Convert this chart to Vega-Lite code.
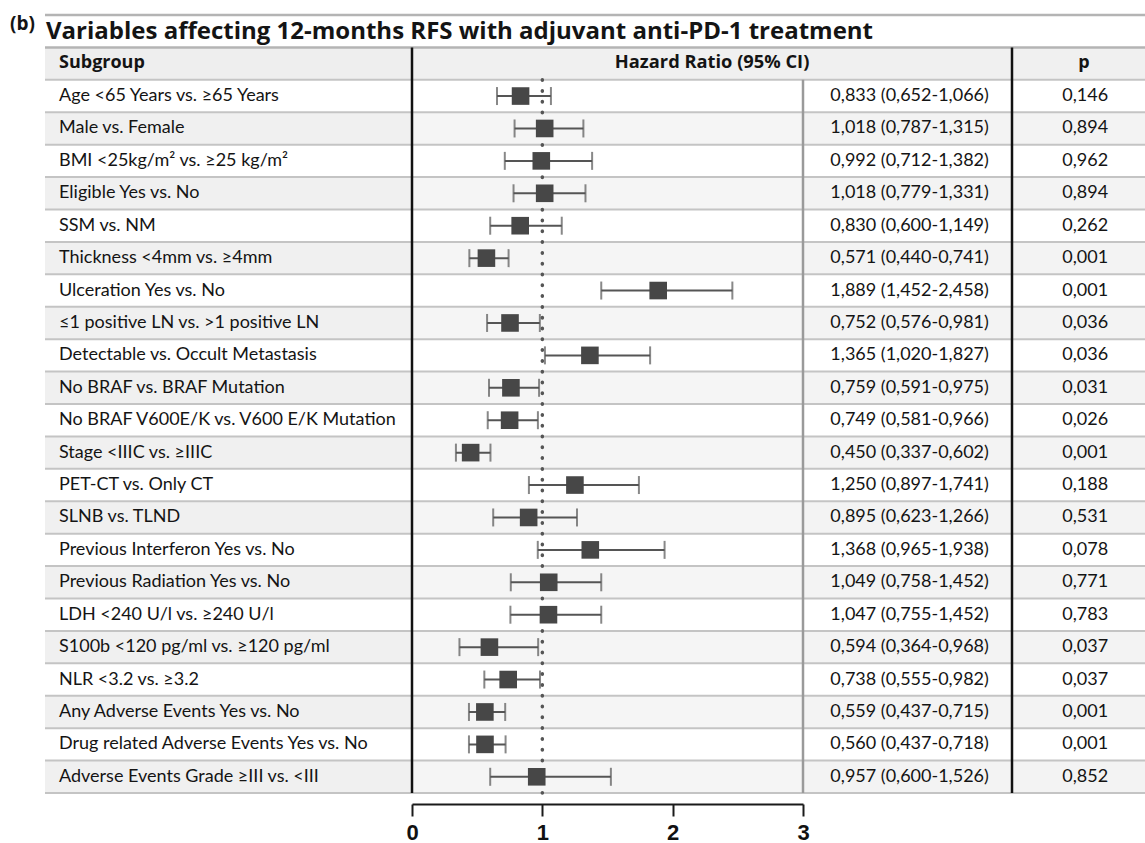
{
  "$schema": "https://vega.github.io/schema/vega-lite/v6.json",
  "padding": {"left": 10, "top": 13, "right": 0, "bottom": 0},
  "background": "white",
  "config": {"view": {"stroke": null}, "font": "Lato"},
  "datasets": {
    "rows": [
      {"i": 1, "label": "Age <65 Years vs. ≥65 Years", "hr": 0.833, "lo": 0.652, "hi": 1.066, "hrtext": "0,833 (0,652-1,066)", "p": "0,146"},
      {"i": 2, "label": "Male vs. Female", "hr": 1.018, "lo": 0.787, "hi": 1.315, "hrtext": "1,018 (0,787-1,315)", "p": "0,894"},
      {"i": 3, "label": "BMI <25kg/m² vs. ≥25 kg/m²", "hr": 0.992, "lo": 0.712, "hi": 1.382, "hrtext": "0,992 (0,712-1,382)", "p": "0,962"},
      {"i": 4, "label": "Eligible Yes vs. No", "hr": 1.018, "lo": 0.779, "hi": 1.331, "hrtext": "1,018 (0,779-1,331)", "p": "0,894"},
      {"i": 5, "label": "SSM vs. NM", "hr": 0.830, "lo": 0.600, "hi": 1.149, "hrtext": "0,830 (0,600-1,149)", "p": "0,262"},
      {"i": 6, "label": "Thickness <4mm vs. ≥4mm", "hr": 0.571, "lo": 0.440, "hi": 0.741, "hrtext": "0,571 (0,440-0,741)", "p": "0,001"},
      {"i": 7, "label": "Ulceration Yes vs. No", "hr": 1.889, "lo": 1.452, "hi": 2.458, "hrtext": "1,889 (1,452-2,458)", "p": "0,001"},
      {"i": 8, "label": "≤1 positive LN vs. >1 positive LN", "hr": 0.752, "lo": 0.576, "hi": 0.981, "hrtext": "0,752 (0,576-0,981)", "p": "0,036"},
      {"i": 9, "label": "Detectable vs. Occult Metastasis", "hr": 1.365, "lo": 1.020, "hi": 1.827, "hrtext": "1,365 (1,020-1,827)", "p": "0,036"},
      {"i": 10, "label": "No BRAF vs. BRAF Mutation", "hr": 0.759, "lo": 0.591, "hi": 0.975, "hrtext": "0,759 (0,591-0,975)", "p": "0,031"},
      {"i": 11, "label": "No BRAF V600E/K vs. V600 E/K Mutation", "hr": 0.749, "lo": 0.581, "hi": 0.966, "hrtext": "0,749 (0,581-0,966)", "p": "0,026"},
      {"i": 12, "label": "Stage <IIIC vs. ≥IIIC", "hr": 0.450, "lo": 0.337, "hi": 0.602, "hrtext": "0,450 (0,337-0,602)", "p": "0,001"},
      {"i": 13, "label": "PET-CT vs. Only CT", "hr": 1.250, "lo": 0.897, "hi": 1.741, "hrtext": "1,250 (0,897-1,741)", "p": "0,188"},
      {"i": 14, "label": "SLNB vs. TLND", "hr": 0.895, "lo": 0.623, "hi": 1.266, "hrtext": "0,895 (0,623-1,266)", "p": "0,531"},
      {"i": 15, "label": "Previous Interferon Yes vs. No", "hr": 1.368, "lo": 0.965, "hi": 1.938, "hrtext": "1,368 (0,965-1,938)", "p": "0,078"},
      {"i": 16, "label": "Previous Radiation Yes vs. No", "hr": 1.049, "lo": 0.758, "hi": 1.452, "hrtext": "1,049 (0,758-1,452)", "p": "0,771"},
      {"i": 17, "label": "LDH <240 U/l vs. ≥240 U/l", "hr": 1.047, "lo": 0.755, "hi": 1.452, "hrtext": "1,047 (0,755-1,452)", "p": "0,783"},
      {"i": 18, "label": "S100b <120 pg/ml vs. ≥120 pg/ml", "hr": 0.594, "lo": 0.364, "hi": 0.968, "hrtext": "0,594 (0,364-0,968)", "p": "0,037"},
      {"i": 19, "label": "NLR <3.2 vs. ≥3.2", "hr": 0.738, "lo": 0.555, "hi": 0.982, "hrtext": "0,738 (0,555-0,982)", "p": "0,037"},
      {"i": 20, "label": "Any Adverse Events Yes vs. No", "hr": 0.559, "lo": 0.437, "hi": 0.715, "hrtext": "0,559 (0,437-0,715)", "p": "0,001"},
      {"i": 21, "label": "Drug related Adverse Events Yes vs. No", "hr": 0.560, "lo": 0.437, "hi": 0.718, "hrtext": "0,560 (0,437-0,718)", "p": "0,001"},
      {"i": 22, "label": "Adverse Events Grade ≥III vs. <III", "hr": 0.957, "lo": 0.600, "hi": 1.526, "hrtext": "0,957 (0,600-1,526)", "p": "0,852"}
    ],
    "hdr": [{"i": 0}],
    "ttl": [{"i": -1, "title": "Variables affecting 12-months RFS with adjuvant anti-PD-1 treatment", "tag": "(b)"}]
  },
  "spacing": 0,
  "bounds": "flush",
  "hconcat": [
    {
      "width": 367,
      "height": 778,
      "layer": [
        {"data": {"name": "rows"}, "transform": [{"filter": "datum.i % 2 == 0"}], "mark": {"type": "rect", "color": "#f0f0f0"},
         "encoding": {"y": {"field": "i", "type": "ordinal", "scale": {"domain": [-1,0,1,2,3,4,5,6,7,8,9,10,11,12,13,14,15,16,17,18,19,20,21,22], "paddingInner": 0, "paddingOuter": 0}, "axis": null}}},
        {"data": {"name": "hdr"}, "mark": {"type": "rect", "color": "#eeeeee"}, "encoding": {"y": {"field": "i", "type": "ordinal"}}},
        {"data": {"name": "rows"}, "mark": {"type": "rule", "color": "#c4c4c4", "strokeWidth": 2}, "encoding": {"y": {"field": "i", "type": "ordinal", "bandPosition": 1}}},
        {"data": {"name": "hdr"}, "mark": {"type": "rule", "color": "#b4b4b4", "strokeWidth": 2.5}, "encoding": {"y": {"field": "i", "type": "ordinal", "bandPosition": 0}}},
        {"data": {"name": "hdr"}, "mark": {"type": "rule", "color": "#c4c4c4", "strokeWidth": 2}, "encoding": {"y": {"field": "i", "type": "ordinal", "bandPosition": 1}}},
        {"data": {"name": "ttl"}, "mark": {"type": "rule", "color": "#b4b4b4", "strokeWidth": 2.5}, "encoding": {"y": {"field": "i", "type": "ordinal", "bandPosition": 0}}},
        {"data": {"name": "rows"}, "mark": {"type": "text", "align": "left", "baseline": "middle", "dx": 14, "fontSize": 18, "color": "#141414"},
         "encoding": {"x": {"datum": 0, "type": "quantitative", "scale": {"domain": [0, 1]}, "axis": null}, "y": {"field": "i", "type": "ordinal"}, "text": {"field": "label"}}},
        {"data": {"name": "hdr"}, "mark": {"type": "text", "align": "left", "baseline": "middle", "dx": 14, "dy": -1, "font": "Open Sans", "fontSize": 18, "fontWeight": "bold", "color": "#141414"},
         "encoding": {"x": {"datum": 0, "type": "quantitative"}, "y": {"field": "i", "type": "ordinal"}, "text": {"value": "Subgroup"}}},
        {"data": {"name": "ttl"}, "mark": {"type": "text", "align": "left", "baseline": "middle", "dx": 1, "dy": 1, "font": "Open Sans", "fontSize": 24, "fontWeight": "bold", "color": "#141414"},
         "encoding": {"x": {"datum": 0, "type": "quantitative"}, "y": {"field": "i", "type": "ordinal"}, "text": {"field": "title"}}},
        {"data": {"name": "ttl"}, "mark": {"type": "text", "align": "left", "baseline": "middle", "dx": -35, "dy": -7, "font": "Open Sans", "fontSize": 19, "fontWeight": "bold", "color": "#141414"},
         "encoding": {"x": {"datum": 0, "type": "quantitative"}, "y": {"field": "i", "type": "ordinal"}, "text": {"field": "tag"}}}
      ]
    },
    {
      "width": 391,
      "height": 778,
      "layer": [
        {"data": {"name": "rows"}, "transform": [{"filter": "datum.i % 2 == 0"}], "mark": {"type": "rect", "color": "#f5f5f5"},
         "encoding": {"y": {"field": "i", "type": "ordinal", "scale": {"domain": [-1,0,1,2,3,4,5,6,7,8,9,10,11,12,13,14,15,16,17,18,19,20,21,22], "paddingInner": 0, "paddingOuter": 0}, "axis": null}}},
        {"data": {"name": "hdr"}, "mark": {"type": "rect", "color": "#f0f0f0"}, "encoding": {"y": {"field": "i", "type": "ordinal"}}},
        {"data": {"name": "rows"}, "mark": {"type": "rule", "color": "#c4c4c4", "strokeWidth": 2}, "encoding": {"y": {"field": "i", "type": "ordinal", "bandPosition": 1}}},
        {"data": {"name": "hdr"}, "mark": {"type": "rule", "color": "#b4b4b4", "strokeWidth": 2.5}, "encoding": {"y": {"field": "i", "type": "ordinal", "bandPosition": 0}}},
        {"data": {"name": "hdr"}, "mark": {"type": "rule", "color": "#c4c4c4", "strokeWidth": 2}, "encoding": {"y": {"field": "i", "type": "ordinal", "bandPosition": 1}}},
        {"data": {"name": "ttl"}, "mark": {"type": "rule", "color": "#b4b4b4", "strokeWidth": 2.5}, "encoding": {"y": {"field": "i", "type": "ordinal", "bandPosition": 0}}},
        {"data": {"name": "hdr"}, "mark": {"type": "rule", "color": "#111111", "strokeWidth": 2.5},
         "encoding": {"x": {"datum": 0, "type": "quantitative"}, "y": {"datum": 0, "type": "ordinal", "bandPosition": 0}, "y2": {"datum": 22, "bandPosition": 1}}},
        {"data": {"name": "hdr"}, "mark": {"type": "rule", "color": "#555555", "strokeWidth": 3.5, "strokeDash": [0.5, 10.3], "strokeCap": "round"},
         "encoding": {"x": {"datum": 1, "type": "quantitative"}, "y": {"datum": 1, "type": "ordinal", "bandPosition": 0}, "y2": {"datum": 22, "bandPosition": 1}}},
        {"data": {"name": "rows"}, "mark": {"type": "rule", "color": "#555555", "strokeWidth": 2},
         "encoding": {
           "x": {"field": "lo", "type": "quantitative", "scale": {"domain": [0, 3], "nice": false},
                 "axis": {"values": [0, 1, 2, 3], "format": "d", "offset": 11, "title": null, "grid": false, "domainColor": "#1a1a1a", "domainWidth": 2, "tickColor": "#1a1a1a", "tickWidth": 2, "tickSize": 12, "labelFont": "Liberation Sans", "labelFontSize": 22, "labelFontWeight": "bold", "labelColor": "#111111", "labelPadding": 6, "labelFlush": false}},
           "x2": {"field": "hi"},
           "y": {"field": "i", "type": "ordinal"}}},
        {"data": {"name": "rows"}, "mark": {"type": "tick", "color": "#555555", "thickness": 2, "size": 18},
         "encoding": {"x": {"field": "lo", "type": "quantitative"}, "y": {"field": "i", "type": "ordinal"}}},
        {"data": {"name": "rows"}, "mark": {"type": "tick", "color": "#555555", "thickness": 2, "size": 18},
         "encoding": {"x": {"field": "hi", "type": "quantitative"}, "y": {"field": "i", "type": "ordinal"}}},
        {"data": {"name": "rows"}, "mark": {"type": "square", "color": "#474747", "size": 310, "opacity": 1},
         "encoding": {"x": {"field": "hr", "type": "quantitative"}, "y": {"field": "i", "type": "ordinal"}}}
      ]
    },
    {
      "width": 209,
      "height": 778,
      "layer": [
        {"data": {"name": "rows"}, "transform": [{"filter": "datum.i % 2 == 0"}], "mark": {"type": "rect", "color": "#f3f3f3"},
         "encoding": {"y": {"field": "i", "type": "ordinal", "scale": {"domain": [-1,0,1,2,3,4,5,6,7,8,9,10,11,12,13,14,15,16,17,18,19,20,21,22], "paddingInner": 0, "paddingOuter": 0}, "axis": null}}},
        {"data": {"name": "hdr"}, "mark": {"type": "rect", "color": "#f0f0f0"}, "encoding": {"y": {"field": "i", "type": "ordinal"}}},
        {"data": {"name": "rows"}, "mark": {"type": "rule", "color": "#c4c4c4", "strokeWidth": 2}, "encoding": {"y": {"field": "i", "type": "ordinal", "bandPosition": 1}}},
        {"data": {"name": "hdr"}, "mark": {"type": "rule", "color": "#b4b4b4", "strokeWidth": 2.5}, "encoding": {"y": {"field": "i", "type": "ordinal", "bandPosition": 0}}},
        {"data": {"name": "hdr"}, "mark": {"type": "rule", "color": "#c4c4c4", "strokeWidth": 2}, "encoding": {"y": {"field": "i", "type": "ordinal", "bandPosition": 1}}},
        {"data": {"name": "ttl"}, "mark": {"type": "rule", "color": "#b4b4b4", "strokeWidth": 2.5}, "encoding": {"y": {"field": "i", "type": "ordinal", "bandPosition": 0}}},
        {"data": {"name": "hdr"}, "mark": {"type": "rule", "color": "#9a9a9a", "strokeWidth": 2.5},
         "encoding": {"x": {"datum": 0, "type": "quantitative", "scale": {"domain": [0, 1]}, "axis": null}, "y": {"datum": 1, "type": "ordinal", "bandPosition": 0}, "y2": {"datum": 22, "bandPosition": 1}}},
        {"data": {"name": "rows"}, "mark": {"type": "text", "align": "center", "baseline": "middle", "fontSize": 18, "color": "#141414"},
         "encoding": {"x": {"datum": 0.51, "type": "quantitative"}, "y": {"field": "i", "type": "ordinal"}, "text": {"field": "hrtext"}}},
        {"data": {"name": "hdr"}, "mark": {"type": "text", "align": "center", "baseline": "middle", "dy": -1, "font": "Open Sans", "fontSize": 18.3, "fontWeight": "bold", "color": "#141414"},
         "encoding": {"x": {"datum": -0.435, "type": "quantitative"}, "y": {"field": "i", "type": "ordinal"}, "text": {"value": "Hazard Ratio (95% CI)"}}}
      ]
    },
    {
      "width": 133,
      "height": 778,
      "layer": [
        {"data": {"name": "rows"}, "transform": [{"filter": "datum.i % 2 == 0"}], "mark": {"type": "rect", "color": "#f3f3f3"},
         "encoding": {"y": {"field": "i", "type": "ordinal", "scale": {"domain": [-1,0,1,2,3,4,5,6,7,8,9,10,11,12,13,14,15,16,17,18,19,20,21,22], "paddingInner": 0, "paddingOuter": 0}, "axis": null}}},
        {"data": {"name": "hdr"}, "mark": {"type": "rect", "color": "#f0f0f0"}, "encoding": {"y": {"field": "i", "type": "ordinal"}}},
        {"data": {"name": "rows"}, "mark": {"type": "rule", "color": "#c4c4c4", "strokeWidth": 2}, "encoding": {"y": {"field": "i", "type": "ordinal", "bandPosition": 1}}},
        {"data": {"name": "hdr"}, "mark": {"type": "rule", "color": "#b4b4b4", "strokeWidth": 2.5}, "encoding": {"y": {"field": "i", "type": "ordinal", "bandPosition": 0}}},
        {"data": {"name": "hdr"}, "mark": {"type": "rule", "color": "#c4c4c4", "strokeWidth": 2}, "encoding": {"y": {"field": "i", "type": "ordinal", "bandPosition": 1}}},
        {"data": {"name": "ttl"}, "mark": {"type": "rule", "color": "#b4b4b4", "strokeWidth": 2.5}, "encoding": {"y": {"field": "i", "type": "ordinal", "bandPosition": 0}}},
        {"data": {"name": "hdr"}, "mark": {"type": "rule", "color": "#111111", "strokeWidth": 2.5},
         "encoding": {"x": {"datum": 0, "type": "quantitative", "scale": {"domain": [0, 1]}, "axis": null}, "y": {"datum": 0, "type": "ordinal", "bandPosition": 0}, "y2": {"datum": 22, "bandPosition": 1}}},
        {"data": {"name": "rows"}, "mark": {"type": "text", "align": "center", "baseline": "middle", "fontSize": 18, "color": "#141414"},
         "encoding": {"x": {"datum": 0.55, "type": "quantitative"}, "y": {"field": "i", "type": "ordinal"}, "text": {"field": "p"}}},
        {"data": {"name": "hdr"}, "mark": {"type": "text", "align": "center", "baseline": "middle", "dy": -1, "font": "Open Sans", "fontSize": 18, "fontWeight": "bold", "color": "#141414"},
         "encoding": {"x": {"datum": 0.54, "type": "quantitative"}, "y": {"field": "i", "type": "ordinal"}, "text": {"value": "p"}}}
      ]
    }
  ]
}
